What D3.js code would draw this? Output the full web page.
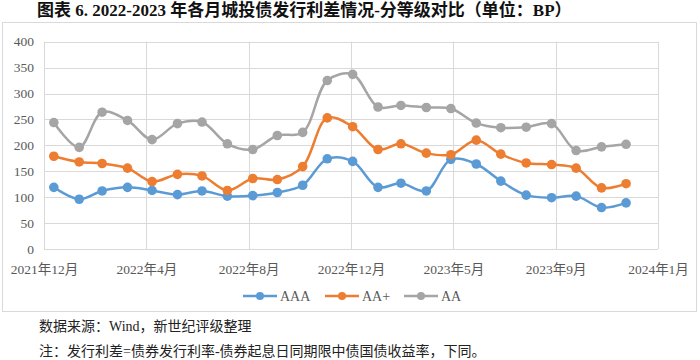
<!DOCTYPE html>
<html>
<head>
<meta charset="utf-8">
<script src="https://cdn.jsdelivr.net/npm/d3@7"></script>
<style>
  html, body { margin: 0; padding: 0; background: #fff; }
  svg { display: block; }
</style>
</head>
<body>
<svg id="chart" width="700" height="360"></svg>
<script>
// month-end observations, Dec 2021 .. Nov 2023
const months = ["2021-12","2022-01","2022-02","2022-03","2022-04","2022-05","2022-06","2022-07","2022-08","2022-09","2022-10","2022-11",
                "2022-12","2023-01","2023-02","2023-03","2023-04","2023-05","2023-06","2023-07","2023-08","2023-09","2023-10","2023-11"];
const aaa  = [119, 96, 112, 119, 113, 105, 112, 102, 103, 109, 123, 174, 169, 119, 127, 112, 173, 164, 131, 104, 99, 102, 80, 89];
const aaPlus = [179, 168, 165, 156, 130, 144, 141, 113, 136, 134, 159, 253, 236, 192, 203, 185, 182, 210, 183, 166, 163, 156, 118, 126];
const aa   = [244, 196, 264, 248, 211, 242, 245, 203, 192, 219, 225, 325, 337, 274, 277, 273, 271, 243, 234, 235, 242, 190, 197, 202];
const seriesNames = ["AAA", "AA+", "AA"];
const yTicks = [0, 50, 100, 150, 200, 250, 300, 350, 400];

const colors = { "AAA": "#5B9BD5", "AA+": "#ED7D31", "AA": "#A5A5A5" };
const series = [
  { name: "AAA", values: aaa },
  { name: "AA+", values: aaPlus },
  { name: "AA",  values: aa },
];

const svg = d3.select("#chart");
const X0 = 44, X1 = 658, Y0 = 249, Y1 = 41.7;
const TXT = "#595959", GRID = "#d9d9d9";
const serif = "'Liberation Serif','Noto Sans CJK SC',serif";

// each point sits at the last day of its month (Excel date axis)
const parseM = d3.timeParse("%Y-%m");
const dates = months.map(m => d3.timeDay.offset(d3.timeMonth.offset(parseM(m), 1), -1));

// axis starts 19 Dec 2021, major unit 125 days
const start = new Date(2021, 11, 19);
const tickDates = d3.range(7).map(i => d3.timeDay.offset(start, 125 * i));

const x = d3.scaleTime().domain([start, tickDates[6]]).range([X0, X1]);
const y = d3.scaleLinear().domain([0, 400]).range([Y0, Y1]);

// title
svg.append("text")
  .attr("x", 37).attr("y", 16)
  .attr("font-family", serif).attr("font-weight", "bold").attr("font-size", 17)
  .attr("fill", "#111")
  .text("图表 6. 2022-2023 年各月城投债发行利差情况-分等级对比（单位：BP）");

// chart frame
svg.append("rect")
  .attr("x", 2.5).attr("y", 22.5).attr("width", 694).attr("height", 289)
  .attr("fill", "#fff").attr("stroke", GRID);

// horizontal grid
svg.append("g").selectAll("line").data(yTicks).join("line")
  .attr("x1", X0).attr("x2", X1)
  .attr("y1", d => Math.round(y(d)) + 0.5).attr("y2", d => Math.round(y(d)) + 0.5)
  .attr("stroke", GRID);

// vertical grid
svg.append("g").selectAll("line").data(tickDates).join("line")
  .attr("x1", d => Math.round(x(d)) + 0.5).attr("x2", d => Math.round(x(d)) + 0.5)
  .attr("y1", Y1).attr("y2", Y0)
  .attr("stroke", GRID);

// y labels
svg.append("g").selectAll("text").data(yTicks).join("text")
  .attr("x", 34).attr("y", d => y(d) + 4.5)
  .attr("text-anchor", "end")
  .attr("font-family", serif).attr("font-size", 13.5).attr("fill", TXT)
  .text(d => d);

// x axis labels
const fmt = d3.timeFormat("%Y年%-m月");
const xAxis = svg.append("g").attr("transform", `translate(0,${Y0})`)
  .call(d3.axisBottom(x).tickValues(tickDates).tickFormat(fmt).tickSize(0).tickPadding(15));
xAxis.select(".domain").remove();
xAxis.selectAll("text")
  .attr("font-family", serif).attr("font-size", 13.5).attr("fill", TXT);

// lines + markers
const line = d3.line()
  .x((d, i) => x(dates[i]))
  .y(d => y(d))
  .curve(d3.curveCatmullRom.alpha(0.5));

series.forEach(s => {
  const g = svg.append("g");
  g.append("path")
    .attr("d", line(s.values))
    .attr("fill", "none")
    .attr("stroke", colors[s.name])
    .attr("stroke-width", 2.5);
  g.selectAll("circle").data(s.values).join("circle")
    .attr("cx", (d, i) => x(dates[i]))
    .attr("cy", d => y(d))
    .attr("r", 4.8)
    .attr("fill", colors[s.name]);
});

// legend
const legendX = [243, 325, 404];
const lg = svg.append("g");
seriesNames.forEach((n, i) => {
  const lx = legendX[i], ly = 296;
  lg.append("line").attr("x1", lx).attr("x2", lx + 34).attr("y1", ly).attr("y2", ly)
    .attr("stroke", colors[n]).attr("stroke-width", 2.5);
  lg.append("circle").attr("cx", lx + 17).attr("cy", ly).attr("r", 4).attr("fill", colors[n]);
  lg.append("text").attr("x", lx + 37).attr("y", ly + 5)
    .attr("font-family", serif).attr("font-size", 14).attr("fill", TXT)
    .text(n);
});

// footnotes
svg.append("text")
  .attr("x", 39).attr("y", 331)
  .attr("font-family", serif).attr("font-size", 14).attr("fill", "#222")
  .text("数据来源：Wind，新世纪评级整理");
svg.append("text")
  .attr("x", 39).attr("y", 356)
  .attr("font-family", serif).attr("font-size", 14).attr("fill", "#222")
  .text("注：发行利差=债券发行利率-债券起息日同期限中债国债收益率，下同。");
</script>
</body>
</html>
